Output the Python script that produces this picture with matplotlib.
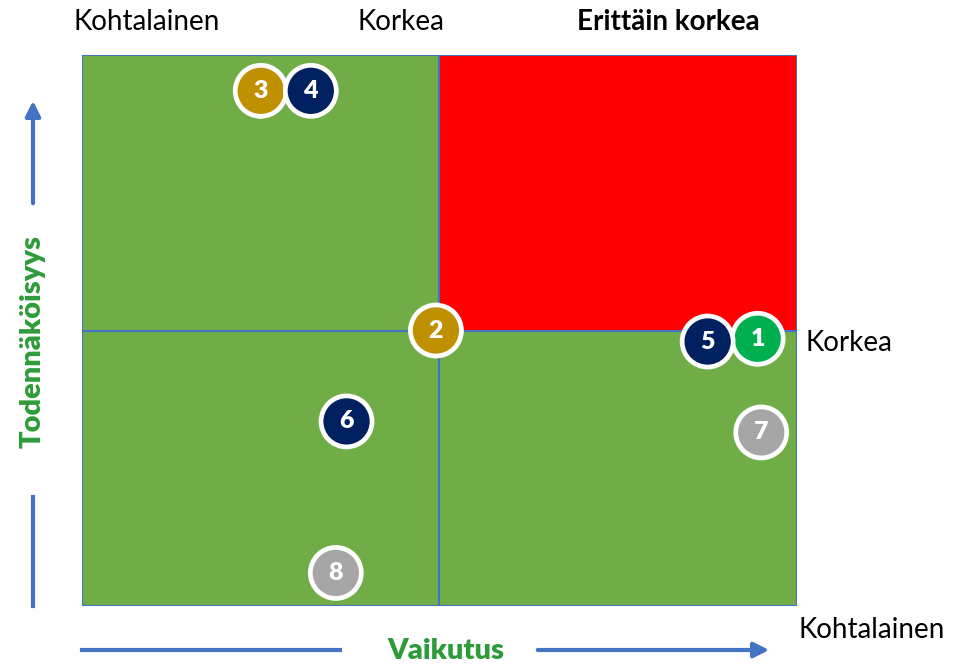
import matplotlib
matplotlib.use("Agg")
import matplotlib.pyplot as plt
from matplotlib.patches import Rectangle

# quadrant grid (impact x likelihood), 2x2
quad_x = [0, 1, 0, 1]
quad_y = [0, 0, 1, 1]
quad_colors = ["#70AD47", "#70AD47", "#70AD47", "#FF0000"]

# risks: label, impact, likelihood, colour
risk_labels = ["1", "2", "3", "4", "5", "6", "7", "8"]
risk_x = [1.89, 0.99, 0.50, 0.64, 1.75, 0.74, 1.90, 0.71]
risk_y = [0.97, 1.00, 1.87, 1.87, 0.96, 0.67, 0.63, 0.12]
risk_colors = ["#00B050", "#BF9000", "#BF9000", "#002060",
               "#002060", "#002060", "#A6A6A6", "#A6A6A6"]

top_labels = ["Kohtalainen", "Korkea", "Erittäin korkea"]
right_labels = ["Korkea", "Kohtalainen"]

BLUE = "#4472C4"
GREEN_TXT = "#2E9B3A"
FONT = "Lato"

W, H = 965, 664
fig = plt.figure(figsize=(W / 100, H / 100), dpi=100)
ax = fig.add_axes([82 / W, 1 - 606 / H, 715 / W, 551 / H])
ax.set_xlim(0, 2)
ax.set_ylim(0, 2)
ax.axis("off")

for qx, qy, qc in zip(quad_x, quad_y, quad_colors):
    ax.add_patch(Rectangle((qx, qy), 1, 1, facecolor=qc, edgecolor=BLUE, linewidth=1.5, zorder=1))

ax.scatter(risk_x, risk_y, s=1350, c=risk_colors, edgecolors="white", linewidths=3.4, zorder=3, clip_on=False)
for lab, x, y in zip(risk_labels, risk_x, risk_y):
    ax.text(x, y, lab, color="white", fontsize=18, fontweight="heavy", family=FONT,
            ha="center", va="center", zorder=4)


def fx(px):
    return px / W


def fy(py):
    return 1 - py / H


LS = 20
# top labels
fig.text(fx(147), fy(22), top_labels[0], fontsize=LS, family=FONT, ha="center", va="center")
fig.text(fx(401), fy(22), top_labels[1], fontsize=LS, family=FONT, ha="center", va="center")
fig.text(fx(668), fy(22), top_labels[2], fontsize=LS, family=FONT, ha="center", va="center", fontweight="bold")
# right labels
fig.text(fx(805), fy(343), right_labels[0], fontsize=LS, family=FONT, ha="left", va="center")
fig.text(fx(872), fy(630), right_labels[1], fontsize=LS, family=FONT, ha="center", va="center")

# axis titles
fig.text(fx(446), fy(651), "Vaikutus", fontsize=21, family=FONT, fontweight="heavy",
         color=GREEN_TXT, ha="center", va="center")
fig.text(fx(33), fy(342), "Todennäköisyys", fontsize=21, family=FONT, fontweight="heavy",
         color=GREEN_TXT, ha="center", va="center", rotation=90)

# arrows
arrow = dict(arrowstyle="-|>,head_length=0.9,head_width=0.45", color=BLUE, lw=3)
fig.add_artist(plt.Line2D([fx(82), fx(340)], [fy(650), fy(650)], color=BLUE, lw=3))
ax.annotate("", xy=(fx(772), fy(650)), xytext=(fx(535), fy(650)),
            xycoords="figure fraction", textcoords="figure fraction", arrowprops=arrow)
ax.annotate("", xy=(fx(33), fy(98)), xytext=(fx(33), fy(206)),
            xycoords="figure fraction", textcoords="figure fraction", arrowprops=arrow)
fig.add_artist(plt.Line2D([fx(33), fx(33)], [fy(497), fy(606)], color=BLUE, lw=3))

fig.savefig("out.png", dpi=100)
